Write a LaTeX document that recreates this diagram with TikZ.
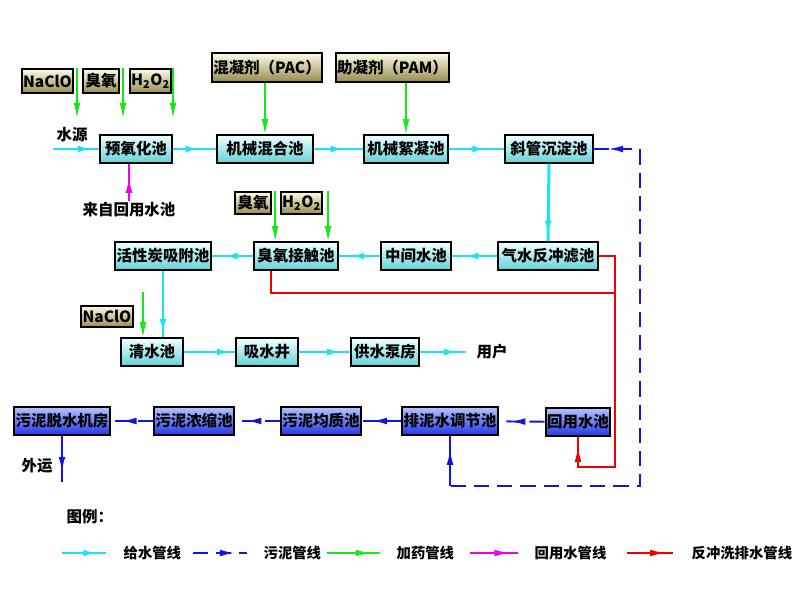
\documentclass[tikz,border=0pt]{standalone}
\usepackage{fontspec}
\setmainfont{Noto Sans CJK SC}
\usetikzlibrary{arrows.meta,decorations.markings}
\definecolor{watercol}{RGB}{25,228,245}
\definecolor{mudcol}{RGB}{20,20,225}
\definecolor{dosecol}{RGB}{20,235,20}
\definecolor{backcol}{RGB}{240,0,240}
\definecolor{washcol}{RGB}{240,0,0}
\definecolor{pooltop}{RGB}{240,255,255}
\definecolor{poolbot}{RGB}{100,210,216}
\definecolor{drugtop}{RGB}{252,252,228}
\definecolor{drugbot}{RGB}{150,140,80}
\definecolor{mudtop}{RGB}{178,195,255}
\definecolor{mudbot}{RGB}{35,55,228}
\tikzset{
  txt/.style={font=\bfseries\fontsize{11}{13}\selectfont},
  box/.style={txt, draw=black, line width=1.4pt, inner sep=1pt,
    minimum height=0.68cm, minimum width=#1},
  pool/.style={box=#1, top color=pooltop, bottom color=poolbot},
  drug/.style={box=#1, top color=drugtop, bottom color=drugbot, minimum height=0.6cm},
  mud/.style={box=#1, top color=mudtop, bottom color=mudbot},
  lbl/.style={txt, inner sep=1pt},
  keytext/.style={font=\bfseries\fontsize{10.2}{12}\selectfont, inner sep=1pt, anchor=west},
  head/.style={-{Latex[length=0.38cm,width=0.17cm]}},
  flow/.style={postaction={decorate}, decoration={markings,
    mark=at position #1 with {\arrow{Latex[length=0.38cm,width=0.17cm]}}}},
  flow/.default=0.8,
  backflow/.style={postaction={decorate}, decoration={markings,
    mark=at position #1 with {\arrowreversed{Latex[length=0.38cm,width=0.17cm]}}}},
  water/.style={draw=watercol, color=watercol, line width=2.1pt},
  mudline/.style={draw=mudcol, color=mudcol, line width=1.4pt},
  dashmud/.style={mudline, dash pattern=on 0.38cm off 0.2cm},
  dose/.style={draw=dosecol, color=dosecol, line width=1.1pt},
  reline/.style={draw=backcol, color=backcol, line width=1.1pt},
  wash/.style={draw=washcol, color=washcol, line width=1.1pt}
}
\begin{document}
\begin{tikzpicture}[x=0.025cm, y=-0.025cm]
  \useasboundingbox (0,0) rectangle (800,600);

  \node[drug=1.23cm] (nacl1) at (47.5,81) {NaClO};
  \node[drug=0.9cm] (oz1) at (101,81) {臭氧};
  \node[drug=0.88cm] (hp1) at (150.5,81) {H\textsubscript{2}O\textsubscript{2}};
  \node[drug=2.5cm, minimum height=0.72cm] (pac) at (267,67.5) {混凝剂（PAC）};
  \node[drug=2.48cm, minimum height=0.72cm] (pam) at (392.5,67.5) {助凝剂（PAM）};
  \node[drug=0.9cm, minimum height=0.55cm] (oz2) at (253,203) {臭氧};
  \node[drug=0.88cm, minimum height=0.55cm] (hp2) at (301.5,203) {H\textsubscript{2}O\textsubscript{2}};
  \node[drug=1.2cm, minimum height=0.53cm] (nacl2) at (107,316.5) {NaClO};

  \node[pool=1.8cm] (pre) at (136,149) {预氧化池};
  \node[pool=2.4cm] (mix) at (265,149) {机械混合池};
  \node[pool=2.1cm] (floc) at (406,149) {机械絮凝池};
  \node[pool=2.2cm] (settle) at (549,149) {斜管沉淀池};
  \node[pool=2.4cm] (gac) at (163,256) {活性炭吸附池};
  \node[pool=2.08cm] (contact) at (296,256) {臭氧接触池};
  \node[pool=1.75cm] (mid) at (416,256) {中间水池};
  \node[pool=2.5cm] (filter) at (548,256) {气水反冲滤池};
  \node[pool=1.53cm] (clear) at (152,352) {清水池};
  \node[pool=1.55cm] (well) at (267,352) {吸水井};
  \node[pool=1.7cm] (pump) at (385,352) {供水泵房};
  \node[mud=2.35cm] (dewater) at (62,421) {污泥脱水机房};
  \node[mud=1.88cm] (thick) at (194,421) {污泥浓缩池};
  \node[mud=1.9cm] (homog) at (321,421) {污泥均质池};
  \node[mud=2.35cm] (adjust) at (450,421) {排泥水调节池};
  \node[mud=1.53cm] (reuse) at (578,422) {回用水池};

  \node[lbl] (source) at (72,135) {水源};
  \node[lbl] (from) at (129,210) {来自回用水池};
  \node[lbl, inner xsep=0.25cm] (user) at (492,352) {用户};
  \node[lbl] (out) at (37,466) {外运};
  \node[lbl, anchor=west] (legend) at (65,517) {图例：};

  \coordinate (src) at (53,149);
  \coordinate (d1) at (77,118);
  \coordinate (d2) at (123,118);
  \coordinate (d3) at (173,118);
  \coordinate (d4) at (143,292);
  \coordinate (sk) at (640,486);
  \coordinate (sc) at (450,486);
  \coordinate (rc) at (615,467);
  \coordinate (rj) at (615,293);
  \coordinate (ship) at (62,482);

  \draw[water, flow=-0.15cm] (src) -- (pre.west);
  \draw[water, flow=0.65] (pre) -- (mix);
  \draw[water, flow=0.65] (mix) -- (floc);
  \draw[water, flow=0.7] (floc) -- (settle);
  \draw[water, flow=0.93] (settle.south) -- (filter.north);
  \draw[water, flow=0.75] (filter) -- (mid);
  \draw[water, flow=0.75] (mid) -- (contact);
  \draw[water, flow=0.75] (contact) -- (gac);
  \draw[water, flow=0.95] (gac.south) -- (gac.south |- clear.north);
  \draw[water, flow=0.95] (clear) -- (well);
  \draw[water, flow=0.85] (well) -- (pump);
  \draw[water, flow=0.85] (pump) -- (user);

  \draw[dose, head] (d1 |- nacl1.north) -- (d1);
  \draw[dose, head] (d2 |- oz1.north) -- (d2);
  \draw[dose, head] (d3 |- hp1.north) -- (d3);
  \draw[dose, head] (pac.south -| mix) -- (mix.north);
  \draw[dose, head] (pam.south -| floc) -- (floc.north);
  \draw[dose, head] ([xshift=0.08cm]oz2.north east) -- ([xshift=0.08cm]oz2.north east |- contact.north);
  \draw[dose, head] ([xshift=0.12cm]hp2.north east) -- ([xshift=0.12cm]hp2.north east |- contact.north);
  \draw[dose, head] (d4) -- (d4 |- clear.north);

  \draw[reline, flow=-0.35cm] (from.north) -- (from.north |- pre.south);

  \draw[wash, flow=-0.25cm] (filter.east) -| (rc) -| (reuse.south);
  \draw[wash] ([xshift=-0.625cm]contact.south) |- (rj);

  \draw[dashmud, backflow=0.35cm] (settle.east) -| (sk) -- (sc);
  \draw[mudline, flow=-0.35cm] (sc) -- (adjust.south);
  \draw[dashmud, flow=0.75] (reuse) -- (adjust);
  \draw[dashmud, flow=0.75] (adjust) -- (homog);
  \draw[dashmud, flow=0.75] (homog) -- (thick);
  \draw[dashmud, flow=0.75] (thick) -- (dewater);
  \draw[mudline, flow=-0.25cm] (dewater.south) -- (ship);

  \node[keytext] (k1) at (122,553) {给水管线};
  \node[keytext] (k2) at (262,553) {污泥管线};
  \node[keytext] (k3) at (395,553) {加药管线};
  \node[keytext] (k4) at (533,553) {回用水管线};
  \node[keytext] (k5) at (690,553) {反冲洗排水管线};
  \coordinate (l1) at (62,553);
  \coordinate (l2) at (193,553);
  \coordinate (l3) at (327,553);
  \coordinate (l4) at (470,553);
  \coordinate (l5) at (627,553);
  \draw[water, flow=0.83] (l1) -- ([xshift=-0.4cm]k1.west);
  \draw[dashmud, flow=0.78] (l2) -- ([xshift=-0.38cm]k2.west);
  \draw[dose, flow=0.83] (l3) -- ([xshift=-0.38cm]k3.west);
  \draw[reline, flow=0.83] (l4) -- ([xshift=-0.38cm]k4.west);
  \draw[wash, flow=0.83] (l5) -- ([xshift=-0.42cm]k5.west);
\end{tikzpicture}
\end{document}
